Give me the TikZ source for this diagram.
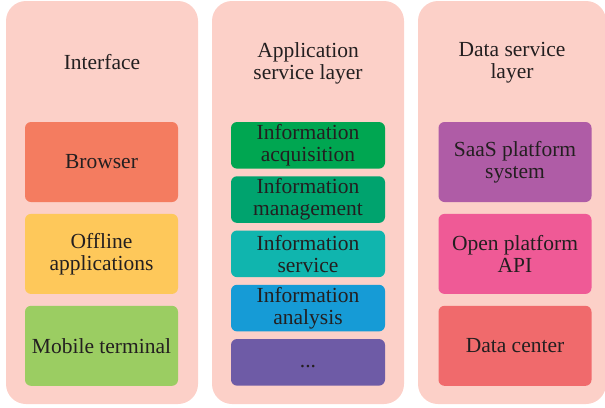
\documentclass[tikz,border=0pt]{standalone}
\usepackage{fontspec}
\setmainfont{Liberation Serif}
\usetikzlibrary{positioning}
\definecolor{panelpink}{RGB}{252,208,200}
\definecolor{inktext}{RGB}{35,31,32}
\definecolor{browserred}{RGB}{244,124,96}
\definecolor{offlineyellow}{RGB}{254,200,90}
\definecolor{mobilegreen}{RGB}{155,205,98}
\definecolor{acqgreen}{RGB}{0,166,81}
\definecolor{mgmtgreen}{RGB}{0,163,110}
\definecolor{servteal}{RGB}{16,181,174}
\definecolor{anablue}{RGB}{22,155,214}
\definecolor{dotspurple}{RGB}{110,91,166}
\definecolor{saaspurple}{RGB}{175,92,166}
\definecolor{apipink}{RGB}{239,90,150}
\definecolor{centerred}{RGB}{240,106,108}
\tikzset{
x=1pt, y=1pt, % one unit is one pixel of the picture
panel/.style={rectangle, rounded corners=20pt, fill=panelpink, minimum width=192pt, minimum height=403pt}, % the three columns
label/.style={text=inktext, align=center, inner sep=0pt, font=\fontsize{21.5}{22}\selectfont}, % every text
}
\tikzset{
  bigbox/.style={label, rectangle, rounded corners=6pt, minimum width=153pt, minimum height=80pt},
  slimbox/.style={label, rectangle, rounded corners=6pt, minimum width=154pt, minimum height=46.6pt}
}

\begin{document}
\begin{tikzpicture}
      \useasboundingbox (0,0) rectangle (605,-407);
      \node[panel] (ui) at (102,-202.5) {};
      \node[panel] (app) at (308,-202.5) {};
      \node[panel, minimum width=188pt] (data) at (512,-202.5) {};

      \node[label] (uititle) at (102,-62) {Interface};
      \node[label] (apptitle) at (308,-63) {Application\\service layer};
      \node[label] (datatitle) at (512,-63) {Data service\\layer};

      \node[bigbox, fill=browserred] (browser) at (101.5,-162) {Browser};
      \node[bigbox, fill=offlineyellow, below=11.5pt of browser] (offline) {Offline\\applications};
      \node[bigbox, fill=mobilegreen, below=11.5pt of offline] (mobile) {Mobile terminal};

      \node[slimbox, fill=acqgreen] (acq) at (308,-145.3) {Information\\acquisition};
      \node[slimbox, fill=mgmtgreen, below=7.25pt of acq] (mgmt) {Information\\management};
      \node[slimbox, fill=servteal, below=7.25pt of mgmt] (serv) {Information\\service};
      \node[slimbox, fill=anablue, below=7.25pt of serv] (ana) {Information\\analysis};
      \node[slimbox, fill=dotspurple, below=7.25pt of ana] (more) {\vphantom{Ig}...};

      \node[bigbox, fill=saaspurple] (saas) at (515,-162) {SaaS platform\\system};
      \node[bigbox, fill=apipink, below=11.5pt of saas] (api) {Open platform\\API};
      \node[bigbox, fill=centerred, below=11.5pt of api] (center) {Data center};
    \end{tikzpicture}
\end{document}
